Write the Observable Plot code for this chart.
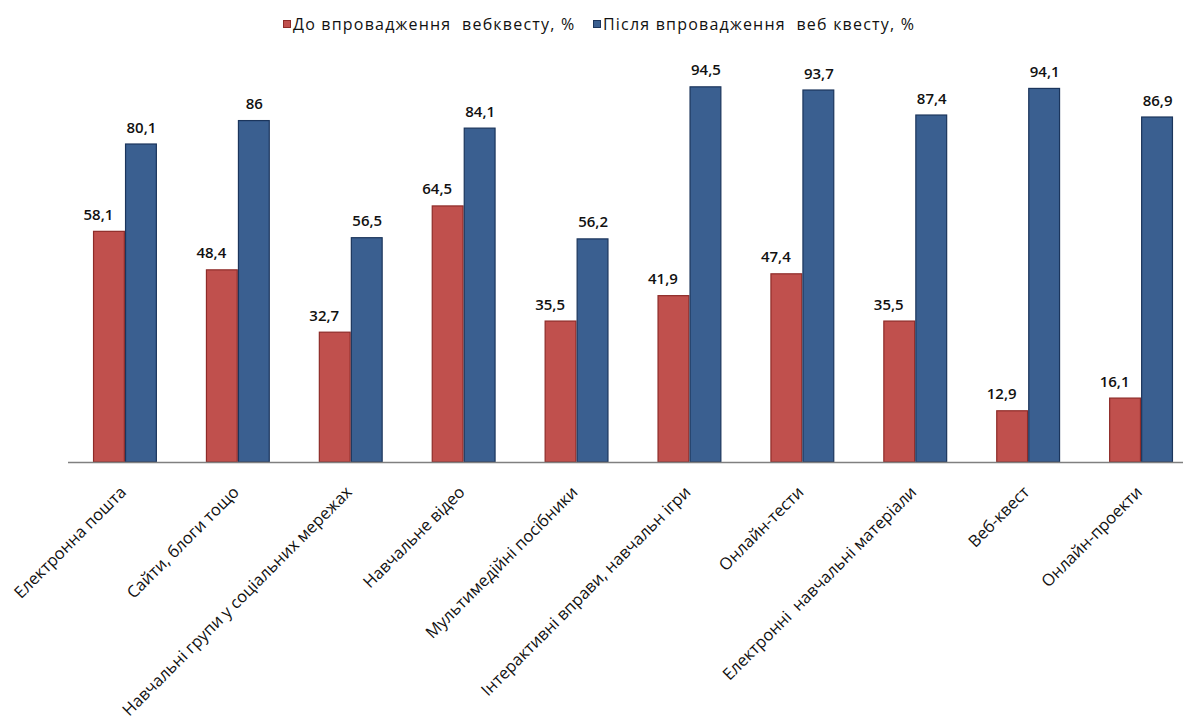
<!DOCTYPE html>
<html lang="uk">
<head>
<meta charset="utf-8">
<script src="https://cdn.jsdelivr.net/npm/d3@7"></script>
<script src="https://cdn.jsdelivr.net/npm/@observablehq/plot@0.6"></script>
<style>
  html, body { margin: 0; padding: 0; background: #fff; overflow: hidden; }
  body { width: 1183px; height: 725px; position: relative; font-family: "Open Sans", sans-serif; }
  #legend { position: relative; height: 50px; font-size: 16px; color: #111; }
  .item { position: absolute; top: 13px; display: flex; align-items: center; white-space: pre; letter-spacing: 1.2px; }
  .swatch { width: 8px; height: 8px; margin-right: 2px; box-sizing: border-box; }
  #chart svg { display: block; }
</style>
</head>
<body>
<div id="legend"></div>
<div id="chart"></div>
<script>
// Categories of digital tools and the share of students using them
const categories = [
  "Електронна пошта",
  "Сайти, блоги тощо",
  "Навчальні групи у соціальних мережах",
  "Навчальне відео",
  "Мультимедійні посібники",
  "Інтерактивні вправи, навчальн ігри",
  "Онлайн-тести",
  "Електронні  навчальні матеріали",
  "Веб-квест",
  "Онлайн-проекти"
];
const seriesNames = ["До впровадження  вебквесту, %", "Після впровадження  веб квесту, %"];
const before = [58.1, 48.4, 32.7, 64.5, 35.5, 41.9, 47.4, 35.5, 12.9, 16.1];
const after = [80.1, 86, 56.5, 84.1, 56.2, 94.5, 93.7, 87.4, 94.1, 86.9];

const fills = ["#C0504D", "#3A5F90"];
const strokes = ["#8E2B28", "#1B355C"];

const beforeRows = categories.map((c, i) => ({category: c, value: before[i]}));
const afterRows = categories.map((c, i) => ({category: c, value: after[i]}));
const fmt = v => String(v).replace(".", ",");

// Legend
const legend = document.getElementById("legend");
[283, 593].forEach((left, s) => {
  const item = document.createElement("div");
  item.className = "item";
  item.style.left = left + "px";
  item.innerHTML = `<span class="swatch" style="background:${fills[s]};border:1px solid ${strokes[s]}"></span><span>${seriesNames[s]}</span>`;
  legend.appendChild(item);
});

// Each category band holds two adjacent bars: "before" on the left half, "after" on the right
const bars = (data, s) => Plot.barY(data, {
  x: "category",
  y: "value",
  fill: fills[s],
  stroke: strokes[s],
  strokeWidth: 1.2,
  insetLeft: s === 0 ? 0.6 : 32.6,
  insetRight: s === 0 ? 32.6 : 0.6
});
const labels = (data, s) => Plot.text(data, {
  x: "category",
  y: "value",
  text: d => fmt(d.value),
  dx: s === 0 ? -27 : 16,
  lineAnchor: "bottom",
  dy: -12,
  fontSize: 15,
  fontWeight: 600,
  fill: "#111"
});

const chart = Plot.plot({
  width: 1183,
  height: 675,
  marginLeft: 68,
  marginRight: 0,
  marginTop: 15,
  marginBottom: 263,
  style: {fontFamily: "'Open Sans', sans-serif", color: "#111", background: "#fff"},
  x: {domain: categories, range: [68.5, 1197.5], paddingInner: 0.433, paddingOuter: 0.2165, round: false},
  y: {domain: [0, 100], axis: null},
  marks: [
    bars(beforeRows, 0),
    bars(afterRows, 1),
    Plot.ruleY([0], {stroke: "#808080", strokeWidth: 1.5}),
    labels(beforeRows, 0),
    labels(afterRows, 1),
    Plot.axisX({
      tickSize: 0,
      tickPadding: 27,
      dx: -2,
      tickRotate: -45,
      fontSize: 16.5,
      fontFamily: "Open Sans",
      fill: "#111",
      label: null
    })
  ]
});
document.getElementById("chart").appendChild(chart);
</script>
</body>
</html>
